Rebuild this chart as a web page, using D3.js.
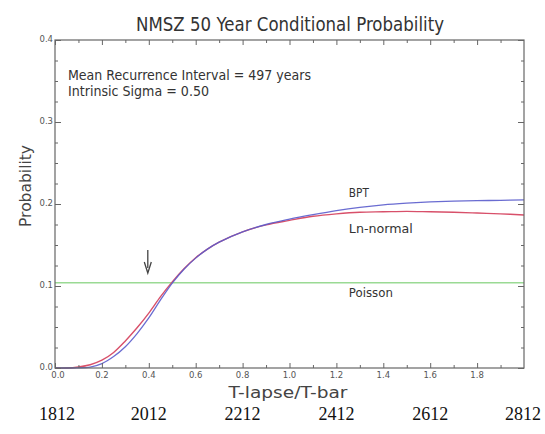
<!DOCTYPE html>
<html>
<head>
<meta charset="utf-8">
<script src="https://cdn.jsdelivr.net/npm/d3@7"></script>
<style>
  html, body { margin: 0; padding: 0; background: #fff; }
  svg { display: block; }
  text { font-family: "DejaVu Sans", sans-serif; }
  text.year { font-family: "Liberation Serif", "Times New Roman", serif; }
</style>
</head>
<body>
<svg id="chart" width="545" height="434"></svg>
<script>
// Elapsed time as a fraction of the mean recurrence interval
const tLapse = [0.0, 0.05, 0.1, 0.15, 0.2, 0.25, 0.3, 0.35, 0.4, 0.45, 0.5, 0.55, 0.6, 0.65, 0.7, 0.8, 0.9, 1.0, 1.1, 1.2, 1.3, 1.4, 1.5, 1.6, 1.7, 1.8, 1.9, 2.0];
// 50-year conditional probability, Brownian passage time model
const bptProb = [0.0, 0.0, 0.0002, 0.0012, 0.0054, 0.014, 0.026, 0.042, 0.061, 0.083, 0.1035, 0.1205, 0.134, 0.145, 0.1535, 0.166, 0.175, 0.1815, 0.187, 0.192, 0.196, 0.199, 0.201, 0.2025, 0.2035, 0.204, 0.2045, 0.205];
// 50-year conditional probability, lognormal model
const lnProb = [0.0, 0.0, 0.0013, 0.004, 0.0095, 0.019, 0.033, 0.049, 0.067, 0.087, 0.105, 0.121, 0.1345, 0.145, 0.1535, 0.166, 0.1745, 0.180, 0.185, 0.188, 0.190, 0.1905, 0.191, 0.1905, 0.190, 0.189, 0.188, 0.1866];
// Time-independent (Poisson) probability
const poissonProb = 0.104;

const xMajorTicks = [0.0, 0.2, 0.4, 0.6, 0.8, 1.0, 1.2, 1.4, 1.6, 1.8];
const xMinorTicks = [0.1, 0.3, 0.5, 0.7, 0.9, 1.1, 1.3, 1.5, 1.7, 1.9];
const yMajorTicks = [0.0, 0.1, 0.2, 0.3, 0.4];
const yMinorTicks = [0.025, 0.05, 0.075, 0.125, 0.15, 0.175, 0.225, 0.25, 0.275, 0.325, 0.35, 0.375];
const yearTicks = [0.0, 0.4, 0.8, 1.2, 1.6, 2.0];
const yearLabels = ["1812", "2012", "2212", "2412", "2612", "2812"];
const arrowAt = 0.4;

const svg = d3.select("#chart");
const plotLeft = 55, plotRight = 524, plotTop = 40, plotBottom = 368;
const x = d3.scaleLinear().domain([0, 2.0]).range([plotLeft, plotRight]);
const y = d3.scaleLinear().domain([0, 0.4]).range([plotBottom, plotTop]);

const frameColor = "#666";
const labelColor = "#555";

// Title
svg.append("text")
  .attr("x", 290).attr("y", 31)
  .attr("text-anchor", "middle")
  .attr("font-size", 19)
  .attr("fill", "#333")
  .attr("textLength", 308).attr("lengthAdjust", "spacingAndGlyphs")
  .text("NMSZ 50 Year Conditional Probability");

// Curves
const line = d3.line()
  .x((d, i) => x(tLapse[i]))
  .y(d => y(d))
  .curve(d3.curveCatmullRom.alpha(0.5));

svg.append("line")
  .attr("x1", x(0)).attr("x2", x(2.0))
  .attr("y1", y(poissonProb)).attr("y2", y(poissonProb))
  .attr("stroke", "#9ada94").attr("stroke-width", 1.4);

svg.append("path")
  .datum(lnProb)
  .attr("d", line)
  .attr("fill", "none")
  .attr("stroke", "#d8506a")
  .attr("stroke-width", 1.4);

svg.append("path")
  .datum(bptProb)
  .attr("d", line)
  .attr("fill", "none")
  .attr("stroke", "#5a5ccc")
  .attr("stroke-width", 1.3)
  .attr("stroke-opacity", 0.9);

// Frame
svg.append("rect")
  .attr("x", plotLeft).attr("y", plotTop)
  .attr("width", plotRight - plotLeft).attr("height", plotBottom - plotTop)
  .attr("fill", "none").attr("stroke", frameColor).attr("stroke-width", 1.2);

// Inward ticks on all four sides
const tickGroups = [
  svg.append("g").attr("transform", `translate(0,${plotBottom})`)
    .call(d3.axisTop(x).tickValues(xMajorTicks).tickSize(5).tickFormat("")),
  svg.append("g").attr("transform", `translate(0,${plotBottom})`)
    .call(d3.axisTop(x).tickValues(xMinorTicks).tickSize(3).tickFormat("")),
  svg.append("g").attr("transform", `translate(0,${plotTop})`)
    .call(d3.axisBottom(x).tickValues(xMajorTicks).tickSize(5).tickFormat("")),
  svg.append("g").attr("transform", `translate(0,${plotTop})`)
    .call(d3.axisBottom(x).tickValues(xMinorTicks).tickSize(3).tickFormat("")),
  svg.append("g").attr("transform", `translate(${plotLeft},0)`)
    .call(d3.axisRight(y).tickValues(yMajorTicks).tickSize(6).tickFormat("")),
  svg.append("g").attr("transform", `translate(${plotLeft},0)`)
    .call(d3.axisRight(y).tickValues(yMinorTicks).tickSize(3).tickFormat("")),
  svg.append("g").attr("transform", `translate(${plotRight},0)`)
    .call(d3.axisLeft(y).tickValues(yMajorTicks).tickSize(6).tickFormat("")),
  svg.append("g").attr("transform", `translate(${plotRight},0)`)
    .call(d3.axisLeft(y).tickValues(yMinorTicks).tickSize(3).tickFormat(""))
];
tickGroups.forEach(g => {
  g.select(".domain").remove();
  g.selectAll("line").attr("stroke", frameColor);
});

// Tick labels
svg.append("g").selectAll("text")
  .data(xMajorTicks).join("text")
  .attr("x", d => x(d) + (d === 0 ? 3 : 0)).attr("y", plotBottom + 10)
  .attr("text-anchor", "middle")
  .attr("font-size", 8.5).attr("fill", labelColor)
  .text(d => d.toFixed(1));

svg.append("g").selectAll("text")
  .data(yMajorTicks).join("text")
  .attr("x", plotLeft - 2).attr("y", d => y(d) + 2)
  .attr("text-anchor", "end")
  .attr("font-size", 8.5).attr("fill", labelColor)
  .text(d => d.toFixed(1));

// Axis titles
svg.append("text")
  .attr("x", 288).attr("y", 398)
  .attr("text-anchor", "middle")
  .attr("font-size", 15).attr("fill", "#444")
  .attr("textLength", 119).attr("lengthAdjust", "spacingAndGlyphs")
  .text("T-lapse/T-bar");

svg.append("text")
  .attr("transform", "translate(31,186) rotate(-90)")
  .attr("text-anchor", "middle")
  .attr("font-size", 15).attr("fill", "#444")
  .attr("textLength", 82).attr("lengthAdjust", "spacingAndGlyphs")
  .text("Probability");

// Calendar years below the axis
svg.append("g").selectAll("text")
  .data(yearTicks).join("text")
  .attr("class", "year")
  .attr("x", (d, i) => x(d) + (i === 0 ? 2 : 0) - (i === yearTicks.length - 1 ? 1 : 0)).attr("y", 420)
  .attr("text-anchor", "middle")
  .attr("font-size", 18).attr("fill", "#111")
  .text((d, i) => yearLabels[i]);

// Model parameters
svg.append("text")
  .attr("x", 68).attr("y", 80)
  .attr("font-size", 13.5).attr("fill", "#333")
  .attr("textLength", 243).attr("lengthAdjust", "spacingAndGlyphs")
  .text("Mean Recurrence Interval = 497 years");
svg.append("text")
  .attr("x", 68).attr("y", 96)
  .attr("font-size", 13.5).attr("fill", "#333")
  .attr("textLength", 141).attr("lengthAdjust", "spacingAndGlyphs")
  .text("Intrinsic Sigma = 0.50");

// Series labels
const seriesLabels = [
  { text: "BPT", yv: 0.2085, w: 20 },
  { text: "Ln-normal", yv: 0.1646, w: 64 },
  { text: "Poisson", yv: 0.0866, w: 44 }
];
svg.append("g").selectAll("text")
  .data(seriesLabels).join("text")
  .attr("x", x(1.253)).attr("y", d => y(d.yv))
  .attr("font-size", 13).attr("fill", "#333")
  .attr("textLength", d => d.w).attr("lengthAdjust", "spacingAndGlyphs")
  .text(d => d.text);

// Arrow marking the present day
const ax = x(arrowAt) - 1;
svg.append("line")
  .attr("x1", ax).attr("x2", ax)
  .attr("y1", 250).attr("y2", 268)
  .attr("stroke", "#444").attr("stroke-width", 1.3);
svg.append("path")
  .attr("d", `M${ax - 3.5},${262} L${ax},${273} L${ax + 3.5},${262}`)
  .attr("fill", "none").attr("stroke", "#444").attr("stroke-width", 1.3);
</script>
</body>
</html>
